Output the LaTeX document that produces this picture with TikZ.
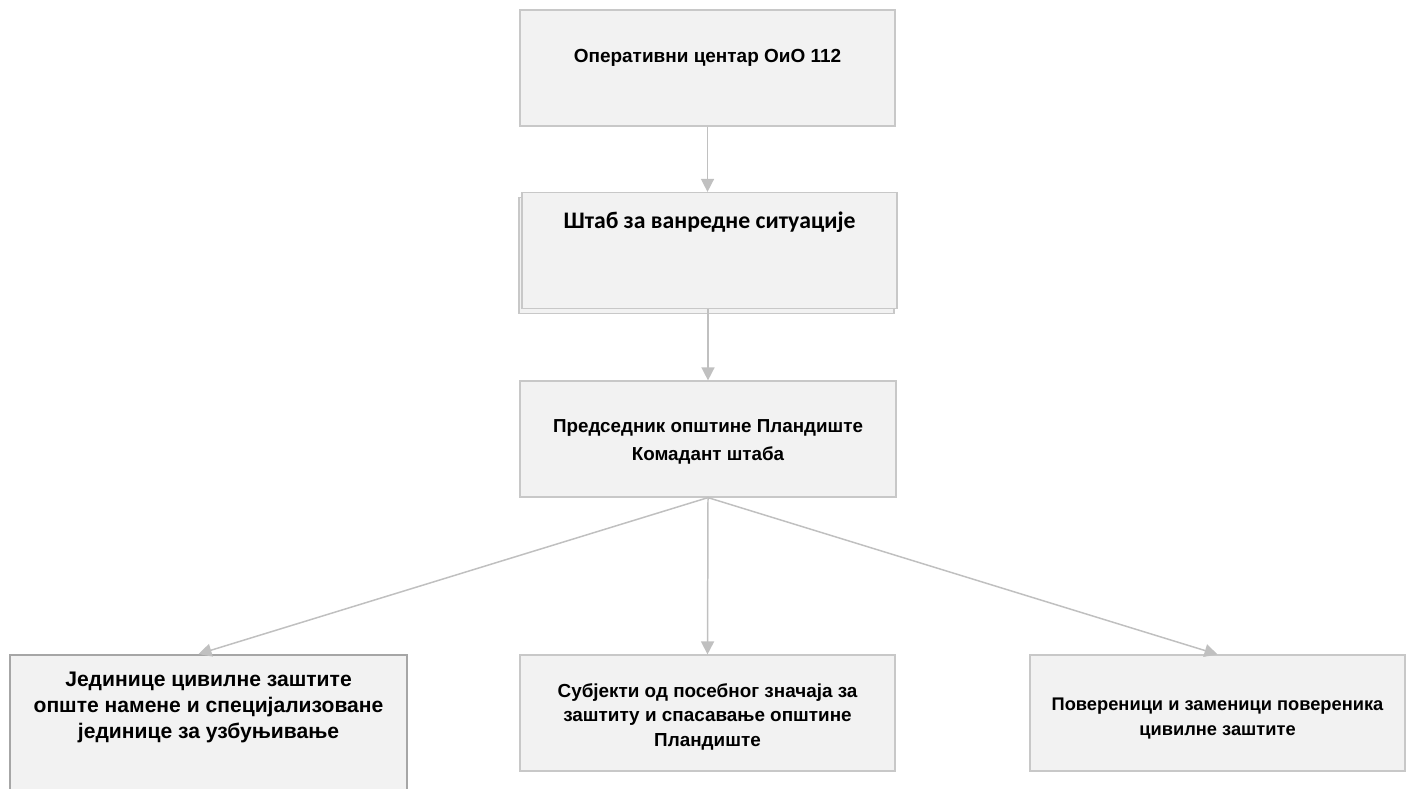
\documentclass[tikz,border=0pt]{standalone}
\usepackage{fontspec}
\setmainfont{Liberation Sans}
\newfontfamily\calibri{Carlito}
\usetikzlibrary{arrows.meta,shadows}
\definecolor{boxfill}{HTML}{F2F2F2}
\definecolor{boxline}{HTML}{C8C8C8}
\definecolor{jedline}{HTML}{A6A6A6}
\definecolor{arrline}{HTML}{C0C0C0}

\begin{document}
\begin{tikzpicture}[x=0.02cm, y=-0.02cm,
    box/.style={draw=boxline, fill=boxfill, line width=0.7pt, inner sep=0pt,
      align=center, minimum width=7.5cm, minimum height=2.32cm},
    arr/.style={draw=arrline, line width=0.85pt,
      -{Triangle[length=0.26cm, width=0.26cm]}}]
  \useasboundingbox (0,0) rectangle (1412,788);

  % upper chain
  \node[box, text height=1.04cm, text depth=1.28cm,
    font=\bfseries\fontsize{10.8}{13}\selectfont] (oc) at (707.5,68)
    {Оперативни центар ОиО 112};
  \node[box, copy shadow={shadow xshift=-0.06cm, shadow yshift=-0.1cm},
    text height=0.68cm, text depth=1.58cm,
    font=\calibri\bfseries\fontsize{13.5}{16}\selectfont] (shtab) at (709.5,250.5)
    {Штаб за ванредне ситуације};
  \node[box, minimum width=7.52cm, text height=1.58cm, text depth=0.74cm,
    font=\bfseries\fontsize{10.7}{15.4}\selectfont] (pres) at (708,439)
    {Председник општине Пландиште\\Комадант штаба};

  % lower row
  \node[box, draw=jedline, line width=1.1pt, minimum width=7.94cm,
    text height=1.66cm, text depth=1.24cm,
    font=\bfseries\fontsize{12}{14.8}\selectfont] (jed) at (208.5,727.5)
    {Јединице цивилне заштите\\опште намене и специјализоване\\јединице за узбуњивање};
  \node[box, text height=1.82cm, text depth=0.5cm,
    font=\bfseries\fontsize{10.75}{13.7}\selectfont] (sub) at (707.5,713)
    {Субјекти од посебног значаја за\\заштиту и спасавање општине\\Пландиште};
  \node[box, text height=1.6cm, text depth=0.72cm,
    font=\bfseries\fontsize{10.4}{14.2}\selectfont] (pov) at (1217.5,713)
    {Повереници и заменици повереника\\цивилне заштите};

  \draw[arr] (oc.south) -- (oc.south |- shtab.north);
  \draw[arr] (pres.north |- shtab.south) -- (pres.north);
  \draw[arr] (pres.south) -- ([xshift=-0.2cm]jed.north);
  \draw[arr] (pres.south) -- (sub.north);
  \draw[arr] (pres.south) -- (pov.north);
\end{tikzpicture}
\end{document}
